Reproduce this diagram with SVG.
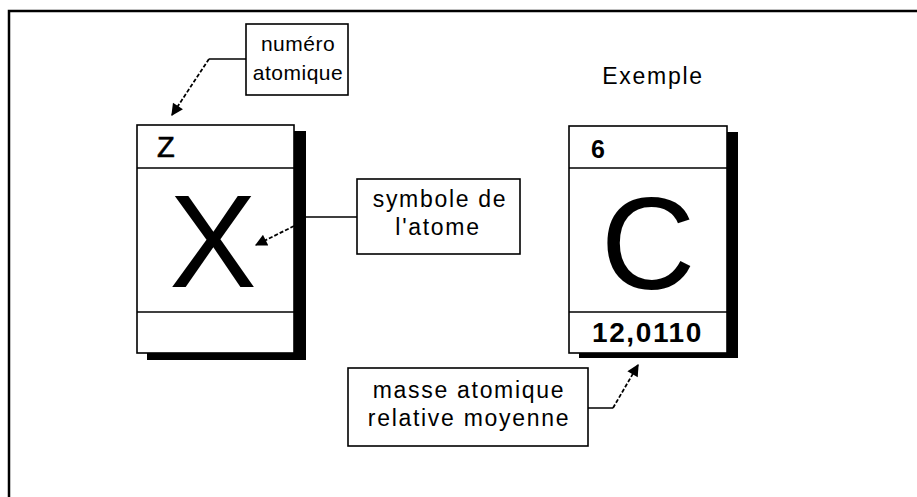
<svg xmlns="http://www.w3.org/2000/svg" width="917" height="497" viewBox="0 0 917 497">
<style>
.lbl{font-family:"Liberation Sans",Arial,sans-serif;font-size:23px;letter-spacing:1.7px;fill:#000;text-anchor:middle}
.box{fill:#fff;stroke:#000;stroke-width:1.6}
.shadow{fill:#000}
.div{stroke:#000;stroke-width:1.6}
.big{font-family:"Liberation Sans",Arial,sans-serif;font-size:131px;fill:#000;text-anchor:middle}
.conn{fill:none;stroke:#000;stroke-width:1.5}
.dash{fill:none;stroke:#000;stroke-width:1.8;stroke-dasharray:4 2}
</style>
<defs>
<marker id="ah" viewBox="0 0 10 10" refX="9" refY="5" markerWidth="14" markerHeight="12" markerUnits="userSpaceOnUse" orient="auto">
<path d="M0,0 L10,5 L0,10 z" fill="#000"/>
</marker>
</defs>
<rect width="917" height="497" fill="#fff"/>
<rect x="9" y="11" width="930" height="520" fill="none" stroke="#000" stroke-width="2.5"/>

<g id="node-generic">
<rect class="shadow" x="147" y="131" width="159" height="229"/>
<rect class="box" x="137" y="125" width="157" height="228"/>
<line class="div" x1="137" y1="168" x2="294" y2="168"/>
<line class="div" x1="137" y1="312" x2="294" y2="312"/>
<text x="157" y="157" font-family="'Liberation Sans',Arial,sans-serif" font-size="29" stroke="#000" stroke-width="0.6">Z</text>
<text class="big" x="213" y="287">X</text>
</g>

<g id="node-carbon">
<rect class="shadow" x="579" y="132" width="159" height="226"/>
<rect class="box" x="569" y="126" width="158" height="227"/>
<line class="div" x1="569" y1="168" x2="727" y2="168"/>
<line class="div" x1="569" y1="312" x2="727" y2="312"/>
<text x="591" y="158" font-family="'Liberation Sans',Arial,sans-serif" font-size="25" font-weight="bold">6</text>
<text class="big" x="648" y="289">C</text>
<text x="592" y="342" font-family="'Liberation Sans',Arial,sans-serif" font-size="28" font-weight="bold" letter-spacing="1.6">12,0110</text>
</g>

<g id="label-exemple">
<text class="lbl" x="653" y="84">Exemple</text>
</g>

<g id="label-numero">
<rect class="box" x="246" y="24" width="102" height="71"/>
<text class="lbl" x="298" y="51" style="font-size:21px;letter-spacing:0.5px">numéro</text>
<text class="lbl" x="298" y="80" style="font-size:21px;letter-spacing:0.5px">atomique</text>
</g>

<g id="label-symbole">
<rect class="box" x="357" y="179" width="163" height="75"/>
<text class="lbl" x="440" y="207">symbole de</text>
<text class="lbl" x="438" y="235">l'atome</text>
</g>

<g id="label-masse">
<rect class="box" x="348" y="368" width="240" height="78"/>
<text class="lbl" x="469" y="398">masse atomique</text>
<text class="lbl" x="469" y="426">relative moyenne</text>
</g>

<g id="connectors">
<polyline class="conn" points="246,59 209,59"/>
<line class="dash" x1="209" y1="59" x2="172" y2="115" marker-end="url(#ah)"/>
<polyline class="conn" points="357,217 306,217 294,226"/>
<line class="dash" x1="294" y1="226" x2="256" y2="245" marker-end="url(#ah)"/>
<polyline class="conn" points="588,408 613,408"/>
<line class="dash" x1="613" y1="408" x2="638" y2="365" marker-end="url(#ah)"/>
</g>
</svg>
